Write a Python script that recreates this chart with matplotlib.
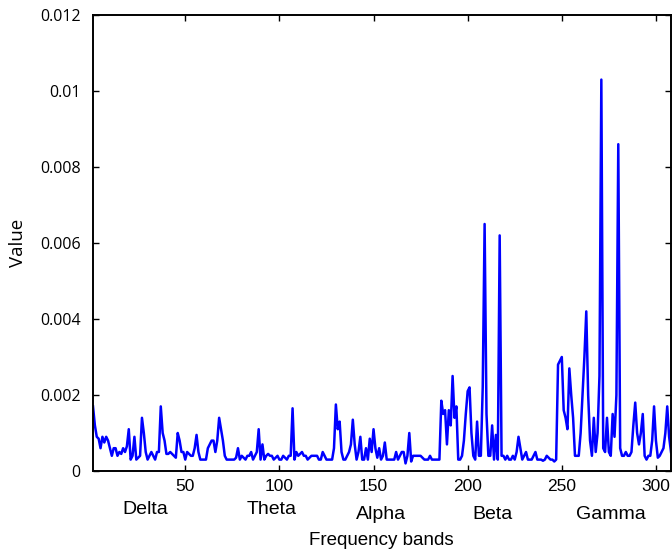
import matplotlib
matplotlib.use("Agg")
import matplotlib.pyplot as plt
import numpy as np

# values in units of 1e-4, index 1..308
values_e4 = [
    17, 12, 9, 8.5, 6, 9, 7.5, 9, 8, 6,            # 1-10
    4, 6, 6, 4, 5, 4.5, 6, 5, 6.5, 11,             # 11-20
    3, 4, 9, 3, 3.5, 4, 14, 10, 5, 3,              # 21-30
    4, 5, 4, 3, 5, 5, 17, 10, 8, 4.5,              # 31-40
    4.5, 5, 4.5, 4, 3.5, 10, 8, 5, 5, 3,           # 41-50
    5, 4.5, 4, 4, 6, 9.5, 5, 3, 3, 3,              # 51-60
    3, 6, 7, 8, 8, 5, 8, 14, 11, 8,                # 61-70
    4, 3, 3, 3, 3, 3, 3.5, 6, 3, 4,                # 71-80
    3.5, 3, 4, 4, 5, 3, 4, 5, 11, 3,               # 81-90
    7, 3, 4, 4.5, 4, 4, 3, 3.5, 4, 3,              # 91-100
    3, 4, 3.5, 3, 4, 4, 16.5, 3, 5, 4,             # 101-110
    4.5, 5, 4, 4, 3, 3.5, 4, 4, 4, 4,              # 111-120
    3, 3, 5, 4, 3, 3, 3, 3, 6, 17.5,               # 121-130
    11, 13, 5, 3, 3, 4, 5, 7, 13.5, 7,             # 131-140
    3, 5, 9, 3, 3, 6, 3, 8.5, 5, 11,               # 141-150
    6, 3.5, 6, 3, 4, 7.5, 3, 3, 3, 3,              # 151-160
    3, 5, 3, 4, 5, 5, 2, 4, 10, 2.5,               # 161-170
    4, 4, 4, 4, 4, 3.5, 3, 3, 3, 4,                # 171-180
    3, 3, 3, 3, 3, 18.5, 15, 16, 7, 16,            # 181-190
    12, 25, 14, 17, 3, 3, 4, 8, 15, 21,            # 191-200
    22, 10, 4, 3, 13, 4, 4, 22, 65, 15,            # 201-210
    4, 4, 12, 3, 9.5, 3, 62, 4, 4, 3,              # 211-220
    4, 3, 3, 4, 3, 5, 9, 6, 3, 4,                  # 221-230
    5, 3, 3, 3, 4, 5, 3, 3, 3, 2.7,                # 231-240
    3, 4, 3.5, 3, 3, 2.5, 3, 28, 29, 30,           # 241-250
    16, 14, 11, 27, 20, 14, 4, 4, 4, 10,           # 251-260
    20, 30, 42, 20, 8, 4, 14, 5, 10, 25,           # 261-270
    103, 6, 5, 14, 5, 4, 15, 9, 20, 86,            # 271-280
    6, 4, 4, 5, 4, 4, 5, 12, 18, 10,               # 281-290
    7, 10, 15, 4, 3, 4, 4, 8, 17, 8,               # 291-300
    3.5, 4, 5, 6, 10, 17, 9, 5,                    # 301-308
]
x_index = list(range(1, len(values_e4) + 1))
values = [v * 1e-4 for v in values_e4]

x_ticks = [50, 100, 150, 200, 250, 300]
y_ticks = [0, 0.002, 0.004, 0.006, 0.008, 0.01, 0.012]
y_tick_labels = ["0", "0.002", "0.004", "0.006", "0.008", "0.01", "0.012"]
bands = ["Delta", "Theta", "Alpha", "Beta", "Gamma"]
band_pos = [29, 96, 154, 213, 276]
band_y = [-0.085, -0.085, -0.096, -0.096, -0.096]

fig = plt.figure(figsize=(6.72, 5.5), dpi=100)
ax = fig.add_axes([93 / 672, 1 - 471 / 550, 578 / 672, 456 / 550])
ax.plot(x_index, values, color=(0, 0, 1), linewidth=1.8)

ax.set_xlim(1, 308)
ax.set_ylim(0, 0.012)
ax.set_xticks(x_ticks)
ax.set_xticklabels([str(t) for t in x_ticks], family="Liberation Sans", fontsize=12.5)
ax.set_yticks(y_ticks)
ax.set_yticklabels(y_tick_labels, family="Open Sans", fontsize=11.5)
ax.tick_params(direction="in", length=4, width=1, top=True, right=True,
               labeltop=False, labelright=False)
ax.tick_params(axis="x", pad=6)
ax.tick_params(axis="y", pad=9)
for s in ax.spines.values():
    s.set_linewidth(1.4)

for name, xp, yp in zip(bands, band_pos, band_y):
    ax.text(xp, yp, name, transform=ax.get_xaxis_transform(), ha="center",
            va="center", fontsize=14, family="Liberation Sans")

ax.set_xlabel("Frequency bands", family="Liberation Sans", fontsize=13.5)
ax.xaxis.set_label_coords(0.498, -0.153)
ax.xaxis.label.set_verticalalignment("center")
ax.set_ylabel("Value", family="Open Sans", fontsize=13.5)
ax.yaxis.set_label_coords(-0.13, 0.5)
ax.yaxis.label.set_verticalalignment("center")

fig.savefig("out.png", dpi=100)
